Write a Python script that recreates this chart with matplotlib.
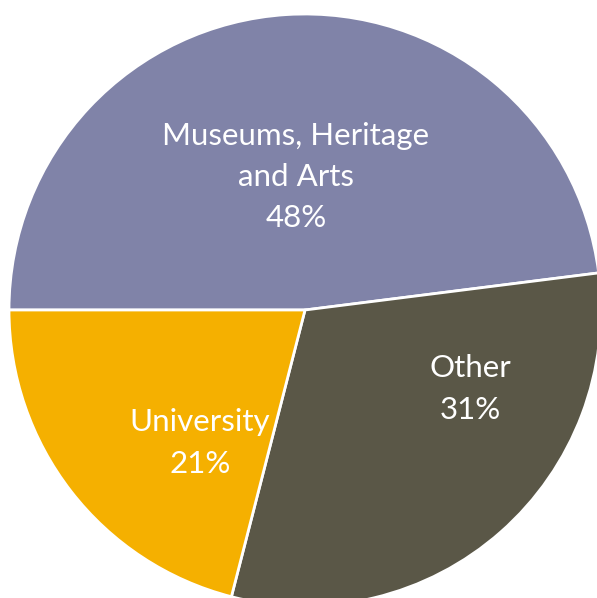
import matplotlib
matplotlib.use("Agg")
import matplotlib.pyplot as plt

# Share of activity by sector
categories = ["Museums, Heritage\nand Arts", "Other", "University"]
values = [48, 31, 21]
colors = ["#8083A8", "#5A5747", "#F5B000"]

W, H = 597, 598
fig = plt.figure(figsize=(W / 100, H / 100), dpi=100)
ax = fig.add_axes([0, 0, 1, 1])

cx, cy, r = 305, -310, 296
ax.pie(values, colors=colors, startangle=180, counterclock=False,
       radius=r, center=(cx, cy), frame=True,
       wedgeprops=dict(edgecolor="white", linewidth=2.0))
ax.set_xlim(0, W)
ax.set_ylim(-H, 0)
ax.set_aspect("equal")
ax.axis("off")

label_pos = [(296, -177), (470, -389), (200, -443)]
for name, val, (x, y) in zip(categories, values, label_pos):
    ax.text(x, y, f"{name}\n{val}%", ha="center", va="center",
            color="white", fontsize=22.5, family="Lato",
            linespacing=1.58)

fig.savefig("out.png", dpi=100)
